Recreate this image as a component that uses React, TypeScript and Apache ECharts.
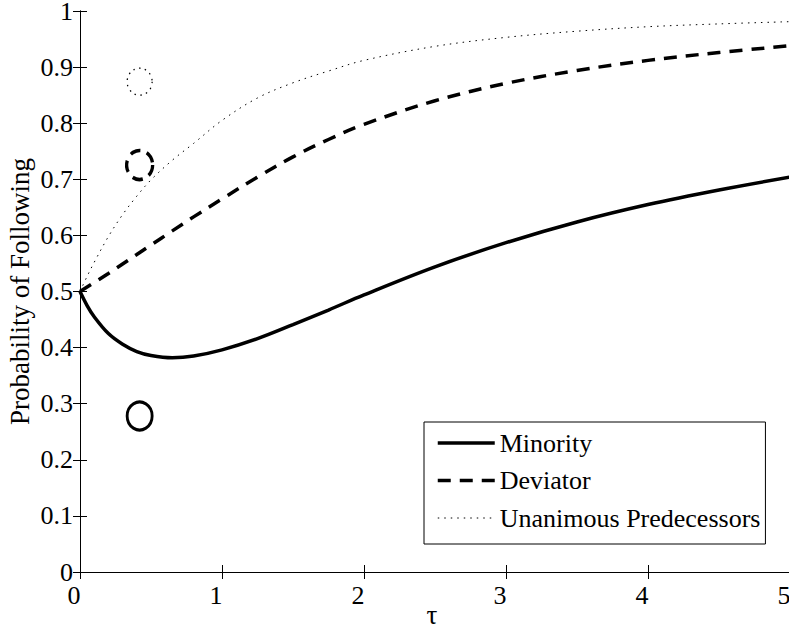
import React, { useEffect, useRef } from "react";
import * as echarts from "echarts";

const tauValues = [0, 0.05, 0.1, 0.2, 0.3, 0.4, 0.5, 0.65, 0.8, 1.0, 1.25, 1.5, 1.75, 2.0, 2.5, 3.0, 3.5, 4.0, 4.5, 5.0];
const minorityValues = [0.5, 0.475, 0.455, 0.425, 0.406, 0.393, 0.386, 0.382, 0.385, 0.396, 0.416, 0.441, 0.467, 0.494, 0.544, 0.587, 0.624, 0.655, 0.681, 0.704];
const deviatorValues = [0.5, 0.508, 0.516, 0.532, 0.549, 0.566, 0.583, 0.608, 0.633, 0.665, 0.704, 0.74, 0.771, 0.798, 0.84, 0.871, 0.894, 0.912, 0.926, 0.938];
const unanimousValues = [0.5, 0.527, 0.552, 0.598, 0.637, 0.67, 0.699, 0.734, 0.764, 0.805, 0.845, 0.872, 0.893, 0.912, 0.937, 0.953, 0.964, 0.972, 0.977, 0.981];

const seriesNames = ["Minority", "Deviator", "Unanimous Predecessors"];
const markerTau = [0.42, 0.42, 0.42];
const markerProb = [0.278, 0.7255, 0.874];

const xTickLabels = ["0", "1", "2", "3", "4", "5"];
const yTickLabels = ["0", "0.1", "0.2", "0.3", "0.4", "0.5", "0.6", "0.7", "0.8", "0.9", "1"];

const FONT = "Liberation Serif";

const pairs = (ys: number[]) => tauValues.map((t, i) => [t, ys[i]]);

export default function App() {
  const ref = useRef<HTMLDivElement>(null);
  useEffect(() => {
    if (!ref.current) return;
    const chart = echarts.init(ref.current, undefined, { renderer: "svg" });
    const lineStyles: any[] = [
      { color: "#000", width: 3.5, type: "solid" },
      { color: "#000", width: 3.5, type: [13, 9] },
      { color: "#000", width: 1, type: [1.5, 5] },
    ];
    const markerStyles: any[] = [
      { size: [25, 28], borderWidth: 3, borderType: "solid" },
      { size: [26, 29], borderWidth: 3.5, borderType: [11, 7] },
      { size: [25, 27], borderWidth: 1.3, borderType: [1.5, 4.5] },
    ];
    const valueSets = [minorityValues, deviatorValues, unanimousValues];
    const axisLine = { show: true, lineStyle: { color: "#000", width: 1 } };
    const axisTick = { show: true, inside: true, length: 7, lineStyle: { color: "#000", width: 1 } };
    chart.setOption({
      animation: false,
      backgroundColor: "#fff",
      textStyle: { fontFamily: FONT, color: "#000" },
      grid: { left: 80, top: 11, width: 710, height: 561, containLabel: false, outerBoundsMode: "none" },
      legend: {
        data: seriesNames,
        orient: "vertical",
        left: 424,
        top: 422,
        padding: [6, 5, 11, 12],
        itemWidth: 57,
        itemHeight: 20,
        itemGap: 7.5,
        borderColor: "#000",
        borderWidth: 1,
        backgroundColor: "#fff",
        selectedMode: false,
        itemStyle: { opacity: 0 },
        lineStyle: { width: "inherit" },
        textStyle: { fontFamily: FONT, fontSize: 26, color: "#000", lineHeight: 30 },
      },
      xAxis: [
        {
          type: "value",
          min: 0,
          max: 5,
          interval: 1,
          position: "bottom",
          name: "τ",
          nameLocation: "middle",
          nameGap: 29,
          nameMoveOverlap: false,
          nameTextStyle: { fontFamily: FONT, fontSize: 27, color: "#000", padding: [0, 6, 0, 0] },
          axisLine,
          axisTick,
          splitLine: { show: false },
          axisLabel: {
            fontFamily: FONT,
            fontSize: 26,
            color: "#000",
            margin: 10,
            padding: [0, 12, 0, 0],
            formatter: (v: number) => xTickLabels[Math.round(v)] ?? "",
          },
        },
        {
          type: "value",
          min: 0,
          max: 5,
          interval: 1,
          position: "top",
          axisLine,
          axisTick,
          axisLabel: { show: false },
          splitLine: { show: false },
        },
      ],
      yAxis: [
        {
          type: "value",
          min: 0,
          max: 1,
          interval: 0.1,
          position: "left",
          name: "Probability of Following",
          nameLocation: "middle",
          nameGap: 47,
          nameMoveOverlap: false,
          nameTextStyle: { fontFamily: FONT, fontSize: 27, color: "#000" },
          axisLine,
          axisTick,
          splitLine: { show: false },
          axisLabel: {
            fontFamily: FONT,
            fontSize: 26,
            lineHeight: 16,
            color: "#000",
            margin: 7,
            formatter: (v: number) => yTickLabels[Math.round(v * 10)] ?? "",
          },
        },
        {
          type: "value",
          min: 0,
          max: 1,
          interval: 0.1,
          position: "right",
          axisLine,
          axisTick,
          axisLabel: { show: false },
          splitLine: { show: false },
        },
      ],
      series: [
        ...seriesNames.map((name, i) => ({
          name,
          type: "line",
          data: pairs(valueSets[i]),
          smooth: 0.35,
          symbol: "none",
          showSymbol: false,
          lineStyle: lineStyles[i],
          itemStyle: { color: "#000" },
          z: 3 - i,
        })),
        ...markerTau.map((t, i) => ({
          name: "marker" + i,
          type: "scatter",
          data: [[t, markerProb[i]]],
          symbol: "circle",
          symbolSize: markerStyles[i].size,
          itemStyle: {
            color: "rgba(0,0,0,0)",
            opacity: 1,
            borderColor: "#000",
            borderWidth: markerStyles[i].borderWidth,
            borderType: markerStyles[i].borderType,
          },
          silent: true,
        })),
      ],
    });
    return () => chart.dispose();
  }, []);
  return (
    <div
      ref={ref}
      style={{ position: "fixed", left: 0, top: 0, width: 789, height: 631, background: "#fff" }}
    />
  );
}
